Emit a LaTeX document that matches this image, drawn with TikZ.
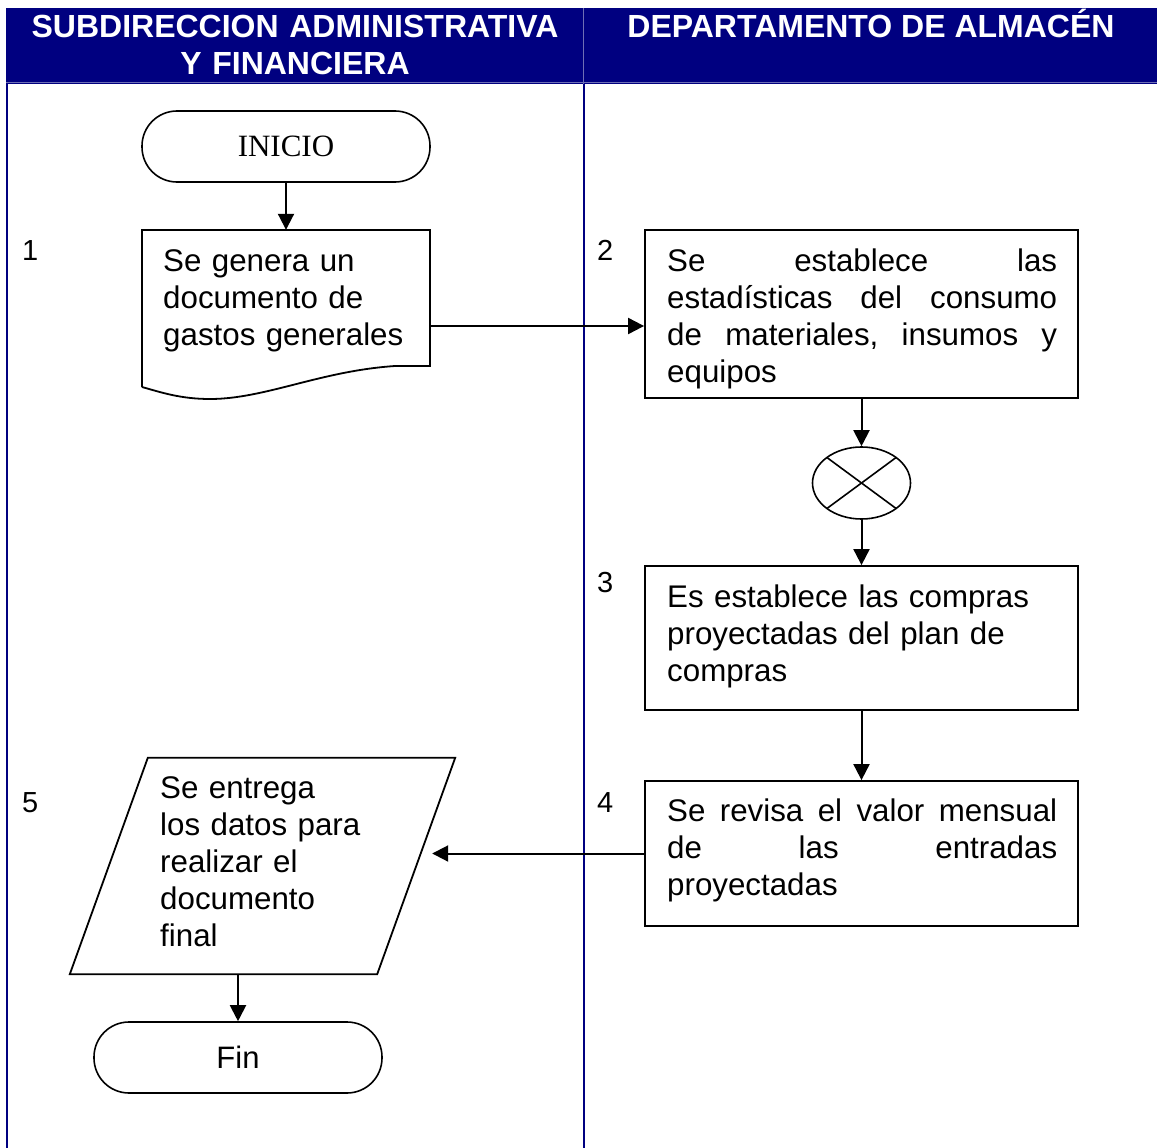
\documentclass[tikz,border=0pt]{standalone}
\usepackage{fontspec}
\setmainfont{Liberation Sans}
\newfontfamily\timesfont{Liberation Serif}
\usetikzlibrary{shapes.geometric,arrows.meta,calc}
\definecolor{navyhead}{RGB}{0,0,128}
\definecolor{cellrule}{RGB}{110,110,180}
% a line of justified text spread over the full box width
\newcommand{\spreadline}[1]{\makebox[390pt][l]{#1}}

\begin{document}
\begin{tikzpicture}[x=1pt,y=-1pt,
  lane/.style={navyhead, line width=2pt},
  txt/.style={font=\fontsize{31.3}{37}\selectfont, inner sep=0pt, anchor=base west, align=left},
  num/.style={font=\fontsize{29}{32}\selectfont, inner sep=0pt, anchor=base west},
  head/.style={font=\fontsize{32}{36}\selectfont\bfseries, text=white, inner sep=0pt, anchor=base},
  proc/.style={draw, line width=1.8pt, minimum width=433pt, inner sep=0pt},
  term/.style={draw, line width=1.6pt, rounded corners=35pt, minimum width=288pt, minimum height=71pt, inner sep=0pt},
  outline/.style={line width=1.8pt, line join=miter},
  arr/.style={line width=2pt, -{Triangle[length=16pt,width=16pt]}},
]
% page frame
\useasboundingbox (0,0) rectangle (1157,1148);

% header band and lanes
\fill[navyhead] (6,8) rectangle (1157,84);
\draw[cellrule, line width=0.8pt] (6,82) -- (1157,82);
\draw[cellrule, line width=0.8pt] (583,8) -- (583,84);
\node[head, text width=560pt, align=center] (headL) at (295,38) {SUBDIRECCION ADMINISTRATIVA\\Y FINANCIERA};
\node[head] (headR) at (871,38) {DEPARTAMENTO DE ALMAC\'EN};
\draw[lane] (7,84) -- (7,1148);
\draw[lane] (583.5,84) -- (583.5,1148);

% step numbers
\node[num] (n1) at (22,260) {1};
\node[num] (n2) at (597,260) {2};
\node[num] (n3) at (597,592) {3};
\node[num] (n4) at (597,812) {4};
\node[num] (n5) at (22,812) {5};

% start
\node[term, font=\timesfont\fontsize{31}{36}\selectfont] (start) at (286,146.5) {INICIO};

% step 1: document symbol
\node[minimum width=288pt, minimum height=169pt, inner sep=0pt] (doc) at (286,314.5) {};
\draw[outline] (142,387) -- (142,230) -- (430,230) -- (430,366) -- (395,366)
  .. controls (320,371) and (265,399) .. (210,399)
  .. controls (180,399) and (160,392) .. (142,387);
\node[txt, text width=270pt] (t1) at (163,271) {Se genera un\\documento de\\gastos generales};

% step 2
\node[proc, minimum height=168pt] (box2) at (861.5,314) {};
\node[txt, text width=390pt] (t2) at (667,271) {\spreadline{Se\hfill establece\hfill las}\\\spreadline{estadísticas\hfill\ del\hfill\ consumo}\\\spreadline{de\hfill\ materiales,\hfill\ insumos\hfill\ y}\\equipos};

% connector
\node[draw, ellipse, line width=1.6pt, minimum width=98pt, minimum height=72pt, inner sep=0pt] (ell) at (861.5,483) {};
\draw[line width=1.6pt] ($(ell.center)+(-34.6,-25.5)$) -- ($(ell.center)+(34.6,25.5)$);
\draw[line width=1.6pt] ($(ell.center)+(-34.6,25.5)$) -- ($(ell.center)+(34.6,-25.5)$);

% step 3
\node[proc, minimum height=144pt] (box3) at (861.5,638) {};
\node[txt, text width=390pt] (t3) at (667,607) {Es establece las compras\\proyectadas del plan de\\compras};

% step 4
\node[proc, minimum height=145pt] (box4) at (861.5,853.5) {};
\node[txt, text width=390pt] (t4) at (667,821) {\spreadline{Se\hfill\ revisa\hfill\ el\hfill\ valor\hfill\ mensual}\\\spreadline{de\hfill las\hfill entradas}\\proyectadas};

% step 5: data symbol
\node[minimum width=385pt, minimum height=216pt, inner sep=0pt] (para) at (262.5,866) {};
\draw[outline] ([xshift=78pt]para.north west) -- (para.north east)
  -- ([xshift=-78pt]para.south east) -- (para.south west) -- cycle;
\node[txt, text width=280pt] (t5) at (160,798) {Se entrega\\los datos para\\realizar el\\documento\\final};

% end
\node[term, font=\fontsize{31}{36}\selectfont] (fin) at (238,1057.5) {Fin};

% flow
\draw[arr] (start.south) -- (doc.north);
\draw[arr] ([yshift=-11.5pt]doc.east) -- ([yshift=-11.5pt]doc.east -| box2.west);
\draw[arr] (box2.south) -- (ell.north);
\draw[arr] (ell.south) -- (box3.north);
\draw[arr] (box3.south) -- (box4.north);
\draw[arr] (box4.west) -- ([xshift=-23pt]para.east |- box4.west);
\draw[arr] (fin.north |- para.south) -- (fin.north);
\end{tikzpicture}
\end{document}
